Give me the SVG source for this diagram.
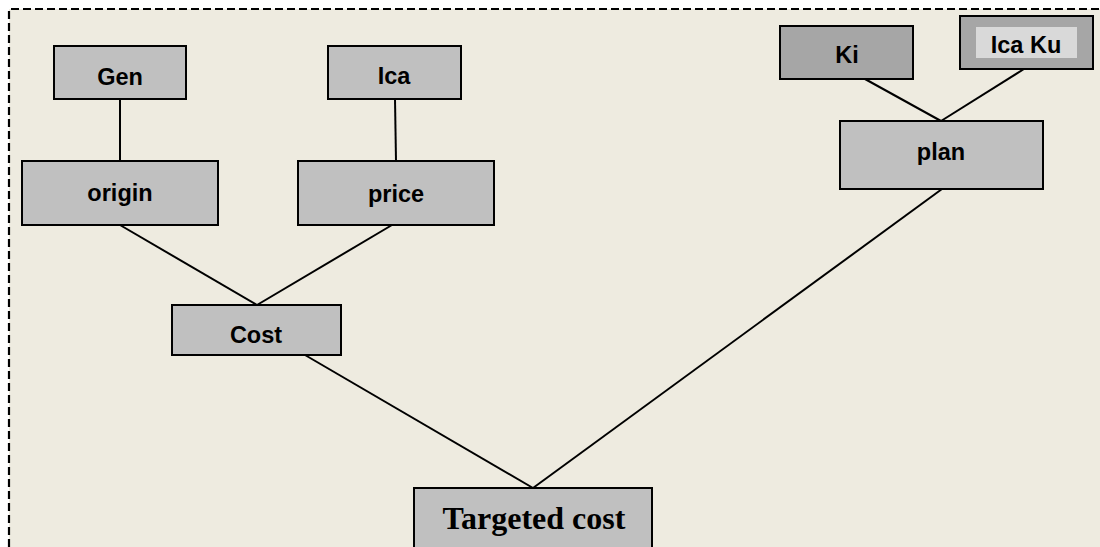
<svg xmlns="http://www.w3.org/2000/svg" width="1100" height="547" viewBox="0 0 1100 547">
<style>
.box{fill:#C0C0C0;stroke:#000;stroke-width:2}
.dark{fill:#A6A6A6;stroke:#000;stroke-width:2}
.t{font-family:"Liberation Sans",Arial,sans-serif;font-weight:bold;font-size:23.5px;fill:#000;text-anchor:middle}
.ts{font-family:"Liberation Serif","Times New Roman",serif;font-weight:bold;font-size:32px;fill:#000;text-anchor:middle}
.c{stroke:#000;stroke-width:2;fill:none}
</style>
<rect x="0" y="0" width="1100" height="547" fill="#FFFFFF"/>
<rect x="9" y="9" width="1091" height="538" fill="#EEEBE0"/>
<path d="M9,547 L9,9 L1100,9" fill="none" stroke="#000" stroke-width="2.2" stroke-dasharray="8,4"/>
<g id="connectors">
<line class="c" x1="120" y1="99" x2="120" y2="161"/>
<line class="c" x1="395" y1="99" x2="396" y2="161"/>
<line class="c" x1="120" y1="225" x2="257" y2="305"/>
<line class="c" x1="392" y1="225" x2="257" y2="305"/>
<line class="c" x1="305" y1="355" x2="533" y2="488"/>
<line class="c" x1="942" y1="189" x2="533" y2="488"/>
<line class="c" x1="865" y1="79" x2="941" y2="121"/>
<line class="c" x1="1024" y1="69" x2="941" y2="121"/>
</g>
<g id="gen"><rect class="box" x="54" y="46" width="132" height="53"/><text class="t" x="120" y="85">Gen</text></g>
<g id="ica"><rect class="box" x="328" y="46" width="133" height="53"/><text class="t" x="394" y="84">Ica</text></g>
<g id="origin"><rect class="box" x="22" y="161" width="196" height="64"/><text class="t" x="120" y="201">origin</text></g>
<g id="price"><rect class="box" x="298" y="161" width="196" height="64"/><text class="t" x="396" y="202">price</text></g>
<g id="cost"><rect class="box" x="172" y="305" width="169" height="50"/><text class="t" x="256" y="343">Cost</text></g>
<g id="targeted"><rect class="box" x="414" y="488" width="238" height="70"/><text class="ts" x="534" y="529">Targeted cost</text></g>
<g id="ki"><rect class="dark" x="780" y="26" width="133" height="53"/><text class="t" x="847" y="63">Ki</text></g>
<g id="icaku"><rect class="dark" x="960" y="16" width="133" height="53"/><rect x="976" y="27" width="101" height="31" fill="#D9D9D9"/><text class="t" x="1026" y="53">Ica Ku</text></g>
<g id="plan"><rect class="box" x="840" y="121" width="203" height="68"/><text class="t" x="941" y="160">plan</text></g>
</svg>
